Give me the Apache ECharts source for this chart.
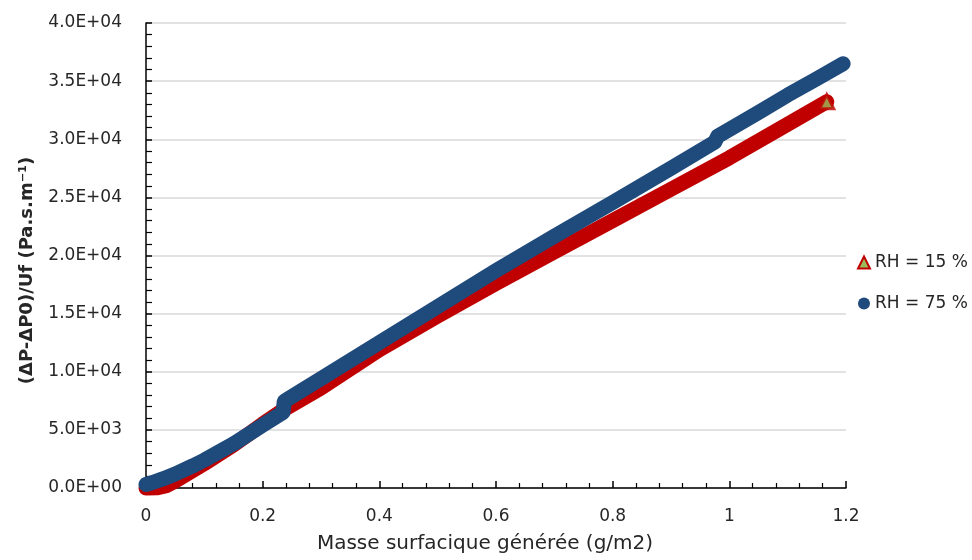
<!DOCTYPE html>
<html><head><meta charset="utf-8">
<script src="https://cdn.jsdelivr.net/npm/echarts@6/dist/echarts.min.js"></script>
<style>html,body{margin:0;padding:0;background:#fff}#c{width:972px;height:560px}</style>
</head><body><div id="c"></div>
<script>
// RH = 15 % series
const rh15X = [0, 0.02, 0.035, 0.05, 0.1, 0.15, 0.2, 0.235, 0.3, 0.4, 0.5, 0.6, 0.7, 0.8, 0.9, 1.0, 1.1, 1.167];
const rh15Y = [0, 30, 200, 600, 2100, 3700, 5500, 6700, 8600, 11900, 14800, 17600, 20300, 23000, 25700, 28400, 31300, 33230];
// RH = 75 % series
const rh75X = [0, 0.01, 0.03, 0.05, 0.08, 0.1, 0.15, 0.2, 0.235, 0.237, 0.245, 0.3, 0.4, 0.5, 0.6, 0.7, 0.8, 0.9, 0.975, 0.98, 1.05, 1.1, 1.15, 1.195];
const rh75Y = [300, 450, 800, 1200, 1900, 2400, 3800, 5400, 6500, 7450, 7700, 9400, 12500, 15600, 18700, 21650, 24550, 27500, 29750, 30250, 32300, 33800, 35200, 36500];
const seriesNames = ['RH = 15 %', 'RH = 75 %'];
const xTitle = 'Masse surfacique générée (g/m2)';
const yTitle = '(ΔP-ΔP0)/Uf (Pa.s.m⁻¹)';

const FONT = 'DejaVu Sans';
const RED = '#C00000', GREEN = '#9BBB59', BLUE = '#1F4A7C', TXT = '#262626';

function expFmt(v) {
  const parts = Number(v).toExponential(1).split('e');
  const e = parseInt(parts[1], 10);
  const sign = e < 0 ? '-' : '+';
  const a = Math.abs(e);
  return parts[0] + 'E' + sign + (a < 10 ? '0' + a : '' + a);
}

const d15 = rh15X.map((x, i) => [x, rh15Y[i]]);
const d75 = rh75X.map((x, i) => [x, rh75Y[i]]);
const last15 = d15[d15.length - 1];

const chart = echarts.init(document.getElementById('c'));
chart.setOption({
  animation: false,
  backgroundColor: '#fff',
  grid: { left: 146, right: 126, top: 23, bottom: 72, containLabel: false },
  legend: {
    orient: 'vertical', left: 852, top: 249, itemGap: 24,
    itemWidth: 12, itemHeight: 12,
    textStyle: { fontFamily: FONT, fontSize: 17, color: TXT },
    data: [
      { name: seriesNames[0], icon: 'triangle', itemStyle: { color: GREEN, borderColor: RED, borderWidth: 2 } },
      { name: seriesNames[1], icon: 'circle', itemStyle: { color: BLUE } }
    ]
  },
  xAxis: {
    type: 'value', min: 0, max: 1.2, interval: 0.2,
    name: xTitle, nameLocation: 'middle', nameGap: 46,
    nameTextStyle: { fontFamily: FONT, fontSize: 20, color: TXT, padding: [0, 22, 0, 0] },
    axisLine: { show: true, onZero: false, lineStyle: { color: '#000', width: 1.5 } },
    axisTick: { show: true, inside: true, length: 7, lineStyle: { color: '#000', width: 1.5 } },
    minorTick: { show: true, splitNumber: 5, length: 5, lineStyle: { color: '#000', width: 1.2 } },
    splitLine: { show: false },
    axisLabel: { fontFamily: FONT, fontSize: 17, color: TXT, margin: 20 }
  },
  yAxis: {
    type: 'value', min: 0, max: 40000, interval: 5000,
    name: yTitle, nameLocation: 'middle', nameGap: 110, nameRotate: 90,
    nameTextStyle: { fontFamily: FONT, fontSize: 18, fontWeight: 'bold', color: TXT, padding: [0, 30, 0, 0] },
    axisLine: { show: true, lineStyle: { color: '#000', width: 1.5 } },
    axisTick: { show: true, inside: true, length: 6, lineStyle: { color: '#000', width: 1.5 } },
    minorTick: { show: true, splitNumber: 5, length: 6, lineStyle: { color: '#000', width: 1.2 } },
    splitLine: { show: true, lineStyle: { color: '#D9D9D9', width: 1.5 } },
    axisLabel: { fontFamily: FONT, fontSize: 17, color: TXT, margin: 24, formatter: expFmt }
  },
  series: [
    {
      name: seriesNames[0], type: 'line', data: d15, symbol: 'none', clip: false, z: 2,
      lineStyle: { color: RED, width: 15, cap: 'round', join: 'round' },
      itemStyle: { color: RED }
    },
    {
      name: seriesNames[0], type: 'scatter', data: [last15], symbol: 'triangle', symbolSize: 14, clip: false, z: 3,
      itemStyle: { color: GREEN, borderColor: RED, borderWidth: 3 }
    },
    {
      name: seriesNames[1], type: 'line', data: d75, symbol: 'none', clip: false, z: 4,
      lineStyle: { color: BLUE, width: 15, cap: 'round', join: 'round' },
      itemStyle: { color: BLUE }
    }
  ]
});
</script></body></html>
